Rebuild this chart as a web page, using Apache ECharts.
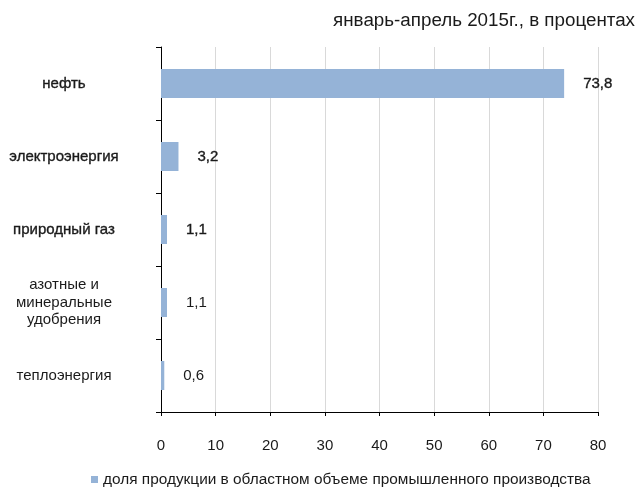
<!DOCTYPE html>
<html><head><meta charset="utf-8">
<script src="https://cdn.jsdelivr.net/npm/echarts@6/dist/echarts.min.js"></script>
<style>html,body{margin:0;padding:0;background:#fff}#c{width:644px;height:488px}</style>
</head><body><div id="c"></div>
<script>
const categories = ['нефть', 'электроэнергия', 'природный газ', 'азотные и\nминеральные\nудобрения', 'теплоэнергия'];
const values = [73.8, 3.2, 1.1, 1.1, 0.6];
const boldFlags = [true, true, true, false, false];
const xTicks = [0, 10, 20, 30, 40, 50, 60, 70, 80];
const seriesName = 'доля продукции в областном объеме промышленного производства';
const titleText = 'январь-апрель 2015г., в процентах';

const font = 'Arial, "Liberation Sans", sans-serif';
const txt = '#1a1a1a';
const chart = echarts.init(document.getElementById('c'));
chart.setOption({
  animation: false,
  title: { text: titleText, right: 4, top: 6, textStyle: { fontFamily: font, fontSize: 18.8, fontWeight: 'normal', color: txt } },
  legend: { bottom: 1, left: 91, padding: 0, itemWidth: 7, itemHeight: 7, icon: 'rect', itemGap: 5,
    textStyle: { fontFamily: font, fontSize: 15.4, color: txt } },
  grid: { left: 161, right: 46, top: 47, bottom: 76 },
  xAxis: { type: 'value', min: xTicks[0], max: xTicks[xTicks.length - 1], interval: 10,
    axisLine: { show: true, lineStyle: { color: '#000' } },
    axisTick: { show: true, length: 4, lineStyle: { color: '#000' } },
    splitLine: { show: true, lineStyle: { color: '#d9d9d9' } },
    axisLabel: { margin: 26, fontFamily: font, fontSize: 15, color: txt } },
  yAxis: { type: 'category', inverse: true, data: categories,
    axisLine: { show: true, lineStyle: { color: '#000' } },
    axisTick: { show: true, length: 5, lineStyle: { color: '#000' } },
    axisLabel: { margin: 97, align: 'center', fontFamily: font, fontSize: 15, color: txt, lineHeight: 17.5,
      formatter: (v, i) => boldFlags[i] ? v.split('\n').map(s => '{b|' + s + '}').join('\n') : v,
      rich: { b: { fontFamily: font, fontSize: 15, color: txt, textBorderColor: txt, textBorderWidth: 0.35 } } } },
  series: [{
    name: seriesName, type: 'bar', barWidth: 29,
    itemStyle: { color: '#95b3d7' },
    data: values.map((v, i) => ({ value: v, label: boldFlags[i] ? { textBorderColor: txt, textBorderWidth: 0.35 } : {} })),
    label: { show: true, position: 'right', distance: 19, fontFamily: font, fontSize: 15, color: txt,
      formatter: p => String(p.value).replace('.', ',') }
  }]
});
</script></body></html>
